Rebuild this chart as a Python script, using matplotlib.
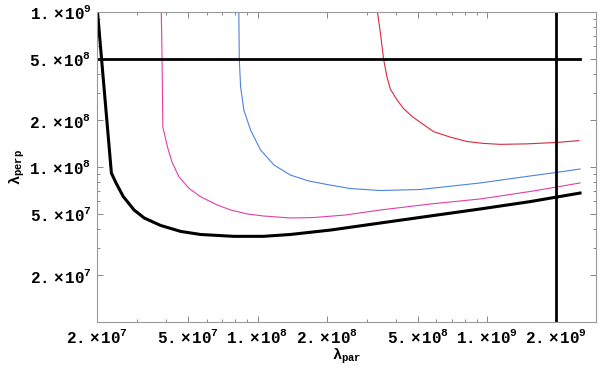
import numpy as np
import matplotlib
matplotlib.use('Agg')
import matplotlib.pyplot as plt
from matplotlib.ticker import FixedLocator, NullFormatter

plt.rcParams['mathtext.fontset'] = 'custom'
plt.rcParams['mathtext.rm'] = 'Liberation Mono:bold'
plt.rcParams['mathtext.it'] = 'Liberation Mono:bold'
plt.rcParams['mathtext.bf'] = 'Liberation Mono:bold'
plt.rcParams['font.family'] = ['Liberation Mono', 'DejaVu Sans Mono']
plt.rcParams['font.weight'] = 'bold'

# black boundary curve
black_x = [2.01e7, 2.31e7, 2.42e7, 2.60e7, 2.90e7, 3.21e7, 3.78e7, 4.63e7, 5.65e7, 7.87e7, 1.06e8,
           1.39e8, 2.08e8, 3.42e8, 5.65e8, 9.33e8, 1.54e9, 2.01e9, 2.54e9]
black_y = [1.0e9, 9.14e7, 7.89e7, 6.46e7, 5.28e7, 4.69e7, 4.20e7, 3.84e7, 3.67e7, 3.57e7, 3.57e7,
           3.67e7, 3.92e7, 4.35e7, 4.83e7, 5.36e7, 5.98e7, 6.40e7, 6.79e7]

# magenta curve
mag_x = [3.81e7, 3.84e7, 3.87e7, 4.08e7, 4.26e7, 4.55e7, 5.02e7, 5.65e7, 6.68e7, 7.64e7,
         9.02e7, 1.06e8, 1.39e8, 1.75e8, 2.41e8, 3.43e8, 5.65e8, 9.33e8, 1.54e9, 2.01e9, 2.54e9]
mag_y = [1.0e9, 4.98e8, 1.81e8, 1.30e8, 1.06e8, 8.65e7, 7.30e7, 6.43e7, 5.69e7, 5.28e7,
         4.98e7, 4.83e7, 4.69e7, 4.72e7, 4.90e7, 5.28e7, 5.77e7, 6.22e7, 6.95e7, 7.43e7, 7.89e7]

# blue curve
blue_x = [8.29e7, 8.33e7, 8.44e7, 8.72e7, 9.33e7, 1.03e8, 1.18e8, 1.39e8, 1.67e8, 2.01e8, 2.54e8,
          3.43e8, 5.12e8, 9.33e8, 1.54e9, 2.01e9, 2.54e9]
blue_y = [1.0e9, 4.98e8, 3.30e8, 2.33e8, 1.73e8, 1.29e8, 1.03e8, 8.87e7, 8.13e7, 7.71e7, 7.26e7,
          7.05e7, 7.16e7, 7.89e7, 8.75e7, 9.23e7, 9.71e7]

# red curve
red_x = [3.33e8, 3.43e8, 3.54e8, 3.66e8, 3.79e8, 4.05e8, 4.33e8, 4.71e8, 5.12e8, 5.85e8, 6.90e8,
         8.18e8, 9.64e8, 1.14e9, 1.49e9, 2.01e9, 2.51e9]
red_y = [1.0e9, 7.33e8, 4.98e8, 3.83e8, 3.18e8, 2.71e8, 2.38e8, 2.12e8, 1.94e8, 1.69e8, 1.56e8,
         1.46e8, 1.42e8, 1.40e8, 1.41e8, 1.44e8, 1.48e8]

hline_y = 5e8
hline_x = [2.0e7, 2.54e9]
vline_x = 2e9

xticks = [2e7, 5e7, 1e8, 2e8, 5e8, 1e9, 2e9]
xlabels = [r'$2.\times10^{7}$', r'$5.\times10^{7}$', r'$1.\times10^{8}$', r'$2.\times10^{8}$',
           r'$5.\times10^{8}$', r'$1.\times10^{9}$', r'$2.\times10^{9}$']
yticks = [2e7, 5e7, 1e8, 2e8, 5e8, 1e9]
ylabels = [r'$2.\times10^{7}$', r'$5.\times10^{7}$', r'$1.\times10^{8}$', r'$2.\times10^{8}$',
           r'$5.\times10^{8}$', r'$1.\times10^{9}$']

fig = plt.figure(figsize=(6, 3.7), dpi=100)
ax = fig.add_axes([0.1617, 0.1297, 0.8316, 0.8379])

ax.plot(red_x, red_y, color='#d82a3c', lw=0.8)
ax.plot(blue_x, blue_y, color='#4d82dc', lw=0.8)
ax.plot(mag_x, mag_y, color='#e23da8', lw=0.8)
ax.plot(black_x, black_y, color='black', lw=2.2, solid_joinstyle='round')
ax.plot(hline_x, [hline_y, hline_y], color='black', lw=2.0)
ax.axvline(vline_x, color='black', lw=2.0)

ax.set_xscale('log')
ax.set_yscale('log')
ax.set_xlim(2.0e7, 2.98e9)
ax.set_ylim(1.0e7, 1.0e9)

minor_x = [m * 10.0**e for e in range(7, 10) for m in range(1, 10)]
minor_y = [m * 10.0**e for e in range(7, 9) for m in range(1, 10)]
ax.xaxis.set_major_locator(FixedLocator(xticks))
ax.xaxis.set_minor_locator(FixedLocator([v for v in minor_x if v not in xticks]))
ax.yaxis.set_major_locator(FixedLocator(yticks))
ax.yaxis.set_minor_locator(FixedLocator([v for v in minor_y if v not in yticks]))
ax.set_xticklabels(xlabels)
ax.set_yticklabels(ylabels)
ax.xaxis.set_minor_formatter(NullFormatter())
ax.yaxis.set_minor_formatter(NullFormatter())

ax.tick_params(which='both', direction='in', top=True, right=True, color='#888888', width=0.7,
               labelsize=11.5, pad=4)
ax.tick_params(which='major', length=4)
ax.tick_params(which='minor', length=2)
for s in ax.spines.values():
    s.set_color('#999999')
    s.set_linewidth(0.8)

ax.set_xlabel(r'$\lambda_{\mathrm{par}}$', fontsize=11, labelpad=1)
ax.set_ylabel(r'$\lambda_{\mathrm{perp}}$', fontsize=11, labelpad=2)

fig.savefig('out.png', dpi=100)
